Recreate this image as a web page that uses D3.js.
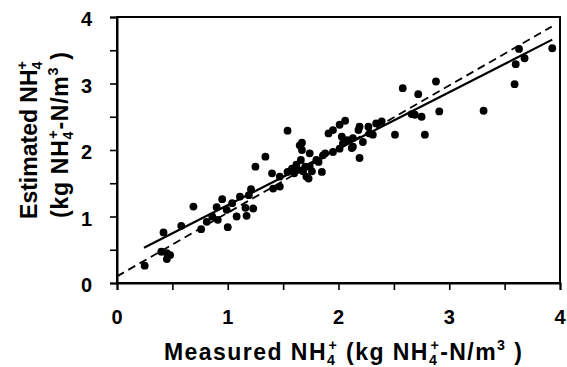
<!DOCTYPE html>
<html><head><meta charset="utf-8">
<script src="https://cdn.jsdelivr.net/npm/d3@7"></script>
<style>body{margin:0;background:#fff}svg{display:block}text{font-family:"Liberation Sans",Arial,Helvetica,sans-serif;font-weight:bold;fill:#000}</style>
</head><body><svg id="c" width="567" height="367"></svg>
<script>
const measured = [0.25,0.40,0.45,0.45,0.48,0.42,0.58,0.69,0.76,0.81,0.86,0.90,0.91,0.95,0.99,1.00,1.04,1.08,1.11,1.17,1.19,1.21,1.16,1.23,1.25,1.34,1.40,1.47,1.41,1.47,
1.54,1.54,1.58,1.60,1.62,1.63,1.65,1.67,1.67,1.66,1.68,1.70,1.71,1.73,1.74,1.74,1.76,1.80,1.82,1.85,1.86,1.88,1.91,1.95,1.95,2.01,2.01,2.06,2.03,2.04,2.08,2.12,2.13,2.18,2.19,2.19,2.22,2.27,2.28,2.34,2.39,2.51,2.31,2.13,
2.58,2.72,2.88,2.66,2.69,2.75,2.91,2.78,3.31,3.59,3.60,3.63,3.68,3.93];
const estimated = [0.26,0.47,0.45,0.36,0.42,0.76,0.86,1.15,0.81,0.92,1.00,1.14,0.95,1.26,1.10,0.84,1.20,1.00,1.30,1.01,1.32,1.41,1.13,1.12,1.75,1.90,1.65,1.60,1.42,1.45,
2.29,1.67,1.72,1.65,1.78,1.70,2.07,2.11,2.00,1.85,1.68,1.75,1.60,1.57,1.95,1.75,1.68,1.85,1.82,1.67,1.92,1.95,2.25,2.30,1.97,2.02,2.38,2.44,2.20,2.10,2.15,2.03,2.18,2.30,2.35,1.88,2.12,2.35,2.25,2.40,2.43,2.23,2.23,2.05,
2.93,2.84,3.03,2.54,2.53,2.50,2.58,2.23,2.59,2.99,3.29,3.52,3.38,3.53];
const regressionLine = [[0.244,0.53],[3.93,3.66]];
const oneToOneLine = [[0,0.1],[3.925,3.855]];
const tickValues = [0,0.5,1,1.5,2,2.5,3,3.5,4];
const tickLabels = [0,1,2,3,4];

const svg = d3.select("#c");
const L=117,R=560,T=17,B=283;
const x = d3.scaleLinear().domain([0,4]).range([L,R]);
const y = d3.scaleLinear().domain([0,4]).range([B,T]);

svg.append("rect").attr("x",L).attr("y",T).attr("width",R-L).attr("height",B-T)
  .attr("fill","none").attr("stroke","#000").attr("stroke-width",2);

const xa = svg.append("g").attr("transform",`translate(0,${B})`)
  .call(d3.axisBottom(x).tickValues(tickValues).tickSize(7).tickFormat(""));
const ya = svg.append("g").attr("transform",`translate(${L},0)`)
  .call(d3.axisLeft(y).tickValues(tickValues).tickSize(7).tickFormat(""));
[xa,ya].forEach(g=>{g.select(".domain").attr("stroke-width",2);g.selectAll(".tick line").attr("stroke-width",1.6);});

svg.selectAll(".xl").data(tickLabels).join("text").attr("class","xl")
  .attr("x",d=>x(d)).attr("y",B+41).attr("text-anchor","middle").attr("font-size",20).text(d=>d);
svg.selectAll(".yl").data(tickLabels).join("text").attr("class","yl")
  .attr("x",92).attr("y",d=>y(d)+9).attr("text-anchor","end").attr("font-size",20).text(d=>d);

const line = d3.line().x(d=>x(d[0])).y(d=>y(d[1]));
svg.append("path").attr("d",line(oneToOneLine)).attr("fill","none").attr("stroke","#000")
  .attr("stroke-width",1.8).attr("stroke-dasharray","8,5");
svg.append("path").attr("d",line(regressionLine)).attr("fill","none").attr("stroke","#000")
  .attr("stroke-width",2.2);

svg.selectAll("circle").data(measured.map((m,i)=>[m,estimated[i]])).join("circle")
  .attr("cx",d=>x(d[0])).attr("cy",d=>y(d[1])).attr("r",3.9).attr("fill","#000");

function rich(t, segs, fs){
  const small = fs*0.62;
  let cur = 0;
  segs.forEach(([txt,kind])=>{
    let off = 0, size = fs, dx = 0;
    if(kind==="sub"){off = fs*0.22; size = small;}
    if(kind==="sup" || kind==="stack"){off = -fs*0.42; size = small;}
    if(kind==="stack"){dx = -small*0.556;}
    const ts = t.append("tspan").attr("font-size",size).attr("dy",off-cur).text(txt);
    if(dx) ts.attr("dx",dx);
    cur = off;
  });
}
const NH4 = [["NH","n"],["4","sub"],["+","stack"]];
const UNIT = [["(kg\u00a0","n"],...NH4,["-N/m","n"],["3","sup"],["\u00a0)","n"]];
const fs=23;
const xt = svg.append("text").attr("x",164).attr("y",360).attr("text-anchor","start")
  .attr("textLength",358).attr("lengthAdjust","spacing");
rich(xt,[["Measured\u00a0","n"],...NH4,["\u00a0","n"],...UNIT],fs);

const yt1 = svg.append("text").attr("transform","translate(37,140) rotate(-90)").attr("text-anchor","middle");
rich(yt1,[["Estimated\u00a0","n"],...NH4],fs);
const yt2 = svg.append("text").attr("transform","translate(68,218) rotate(-90)").attr("text-anchor","start")
  .attr("textLength",166).attr("lengthAdjust","spacing");
rich(yt2,UNIT,fs);
</script></body></html>
